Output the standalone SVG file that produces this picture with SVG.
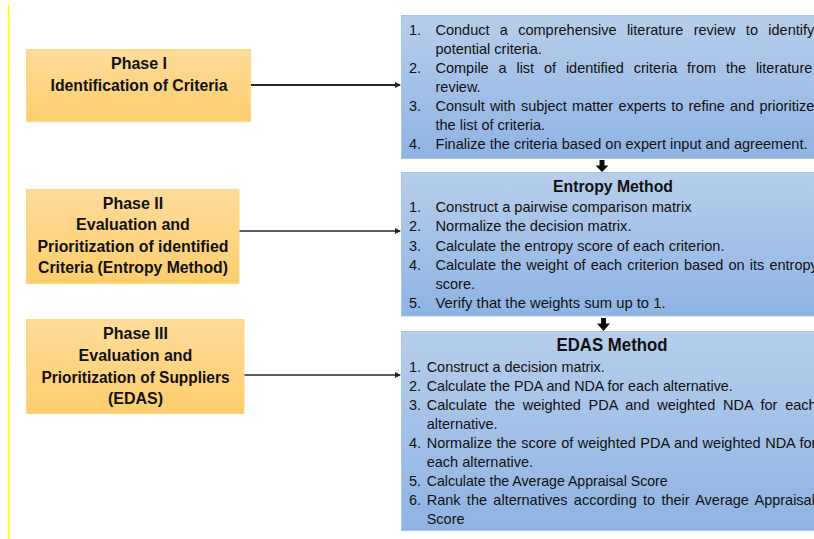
<svg xmlns="http://www.w3.org/2000/svg" width="814" height="539" viewBox="0 0 814 539">
<defs>
<linearGradient id="gOrange" x1="0" y1="0" x2="0" y2="1">
<stop offset="0" stop-color="#FEDB9B"/>
<stop offset="1" stop-color="#FCCE6C"/>
</linearGradient>
<linearGradient id="gBlue" x1="0" y1="0" x2="0" y2="1">
<stop offset="0" stop-color="#B6CEEB"/>
<stop offset="1" stop-color="#8EB4E2"/>
</linearGradient>
<marker id="ah" markerWidth="6" markerHeight="6" refX="5" refY="3" orient="auto" markerUnits="userSpaceOnUse">
<path d="M0,0 L6,3 L0,6 z" fill="#262626"/>
</marker>
<filter id="sh" x="-50%" y="-50%" width="200%" height="200%">
<feGaussianBlur stdDeviation="0.6"/>
</filter>
</defs>
<style>
.phase{fill:url(#gOrange);stroke:#FFD77E;stroke-width:1}
.step{fill:url(#gBlue);stroke:#A9C4E6;stroke-width:1}
.pt{font-family:"Liberation Sans",Arial,sans-serif;font-weight:bold;font-size:16px;fill:#111;text-anchor:middle}
.bt{font-family:"Liberation Sans",Arial,sans-serif;font-size:14.5px;fill:#111}
.hd{font-family:"Liberation Sans",Arial,sans-serif;font-weight:bold;font-size:16px;fill:#111;text-anchor:middle}
.conn{stroke:#262626;fill:none}
.down{fill:#111}
</style>
<rect width="814" height="539" fill="#FFFFFF"/>
<line x1="8.5" y1="5" x2="8.5" y2="539" stroke="#FFFF00" stroke-width="1.5"/>

<g id="phase1">
<rect class="phase" x="26.5" y="49.5" width="224" height="72"/>
<text class="pt" x="139" y="69">Phase I</text>
<text class="pt" x="139" y="90.5" textLength="177" lengthAdjust="spacingAndGlyphs">Identification of Criteria</text>
</g>

<g id="phase2">
<rect class="phase" x="26.5" y="189.5" width="212.5" height="94"/>
<text class="pt" x="133" y="209">Phase II</text>
<text class="pt" x="133" y="230">Evaluation and</text>
<text class="pt" x="133" y="252" textLength="191" lengthAdjust="spacingAndGlyphs">Prioritization of identified</text>
<text class="pt" x="133" y="273" textLength="190" lengthAdjust="spacingAndGlyphs">Criteria (Entropy Method)</text>
</g>

<g id="phase3">
<rect class="phase" x="26.5" y="319.5" width="217.5" height="94"/>
<text class="pt" x="135.5" y="339">Phase III</text>
<text class="pt" x="135.5" y="361">Evaluation and</text>
<text class="pt" x="135.5" y="382.5" textLength="188" lengthAdjust="spacingAndGlyphs">Prioritization of Suppliers</text>
<text class="pt" x="135.5" y="404">(EDAS)</text>
</g>

<g id="step1">
<rect class="step" x="401.5" y="15.5" width="430" height="143"/>
<text class="bt" x="409" y="35">1.</text>
<text class="bt" x="435.5" y="35" word-spacing="6.3">Conduct a comprehensive literature review to identify</text>
<text class="bt" x="435.5" y="54">potential criteria.</text>
<text class="bt" x="409" y="73">2.</text>
<text class="bt" x="435.5" y="73" word-spacing="5.8">Compile a list of identified criteria from the literature</text>
<text class="bt" x="435.5" y="92">review.</text>
<text class="bt" x="409" y="111">3.</text>
<text class="bt" x="435.5" y="111" word-spacing="1.2">Consult with subject matter experts to refine and prioritize</text>
<text class="bt" x="435.5" y="130">the list of criteria.</text>
<text class="bt" x="409" y="149">4.</text>
<text class="bt" x="435.5" y="149" textLength="372" lengthAdjust="spacingAndGlyphs">Finalize the criteria based on expert input and agreement.</text>
</g>

<g id="step2">
<rect class="step" x="401.5" y="172.5" width="430" height="143.5"/>
<text class="hd" x="613" y="192" textLength="120" lengthAdjust="spacingAndGlyphs">Entropy Method</text>
<text class="bt" x="409" y="212">1.</text>
<text class="bt" x="435.5" y="212" textLength="256" lengthAdjust="spacingAndGlyphs">Construct a pairwise comparison matrix</text>
<text class="bt" x="409" y="231">2.</text>
<text class="bt" x="435.5" y="231" textLength="196" lengthAdjust="spacingAndGlyphs">Normalize the decision matrix.</text>
<text class="bt" x="409" y="250.5">3.</text>
<text class="bt" x="435.5" y="250.5" textLength="289" lengthAdjust="spacingAndGlyphs">Calculate the entropy score of each criterion.</text>
<text class="bt" x="409" y="269.5">4.</text>
<text class="bt" x="435.5" y="269.5" word-spacing="1.1">Calculate the weight of each criterion based on its entropy</text>
<text class="bt" x="435.5" y="288.5">score.</text>
<text class="bt" x="409" y="307.5">5.</text>
<text class="bt" x="435.5" y="307.5" textLength="230" lengthAdjust="spacingAndGlyphs">Verify that the weights sum up to 1.</text>
</g>

<g id="step3">
<rect class="step" x="401.5" y="331.5" width="430" height="199"/>
<text class="hd" x="612" y="351" style="font-size:17.5px" textLength="111" lengthAdjust="spacingAndGlyphs">EDAS Method</text>
<text class="bt" x="409" y="371.5">1.</text>
<text class="bt" x="426.7" y="371.5" textLength="178" lengthAdjust="spacingAndGlyphs">Construct a decision matrix.</text>
<text class="bt" x="409" y="391">2.</text>
<text class="bt" x="426.7" y="391" textLength="306" lengthAdjust="spacingAndGlyphs">Calculate the PDA and NDA for each alternative.</text>
<text class="bt" x="409" y="410">3.</text>
<text class="bt" x="426.7" y="410" word-spacing="3.7">Calculate the weighted PDA and weighted NDA for each</text>
<text class="bt" x="426.7" y="429">alternative.</text>
<text class="bt" x="409" y="448">4.</text>
<text class="bt" x="426.7" y="448" word-spacing="0.5">Normalize the score of weighted PDA and weighted NDA for</text>
<text class="bt" x="426.7" y="467">each alternative.</text>
<text class="bt" x="409" y="486">5.</text>
<text class="bt" x="426.7" y="486" textLength="241" lengthAdjust="spacingAndGlyphs">Calculate the Average Appraisal Score</text>
<text class="bt" x="409" y="505">6.</text>
<text class="bt" x="426.7" y="505" word-spacing="2.3">Rank the alternatives according to their Average Appraisal</text>
<text class="bt" x="426.7" y="524">Score</text>
</g>

<g id="connectors">
<line class="conn" x1="251" y1="85" x2="400" y2="85" stroke-width="2" marker-end="url(#ah)"/>
<line class="conn" x1="239.5" y1="231" x2="400" y2="231" stroke-width="1.4" marker-end="url(#ah)"/>
<line class="conn" x1="244.5" y1="375" x2="400" y2="375" stroke-width="1.4" marker-end="url(#ah)"/>
<path class="down" filter="url(#sh)" d="M599.5,160 L604.5,160 L604.5,165.5 L608.5,165.5 L602,172 L595.5,165.5 L599.5,165.5 z"/>
<path class="down" filter="url(#sh)" d="M601,318 L606,318 L606,323.5 L610,323.5 L603.5,331 L597,323.5 L601,323.5 z"/>
</g>
</svg>
